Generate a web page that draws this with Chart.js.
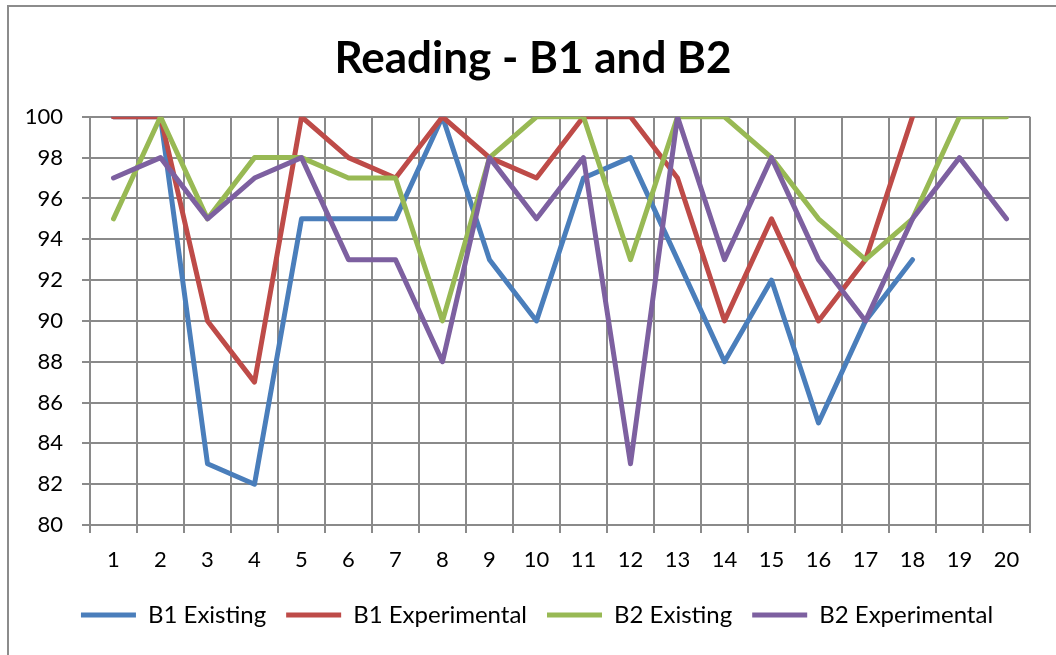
<!DOCTYPE html>
<html>
<head>
<meta charset="utf-8">
<title>Reading - B1 and B2</title>
<script src="https://cdn.jsdelivr.net/npm/chart.js@4/dist/chart.umd.min.js"></script>
<style>
    html, body { margin: 0; padding: 0; background: #fff; }
    #wrap { position: relative; width: 1056px; height: 655px; }
</style>
</head>
<body>
<div id="wrap"><canvas id="readingChart" width="1056" height="655"></canvas></div>
<script>
// student numbers along the bottom
const students = ['1', '2', '3', '4', '5', '6', '7', '8', '9', '10',
    '11', '12', '13', '14', '15', '16', '17', '18', '19', '20'];

// reading scores per group (null = no score)
const b1Existing = [100, 100, 83, 82, 95, 95, 95, 100, 93, 90, 97, 98, 93, 88, 92, 85, 90, 93, null, null];
const b1Experimental = [100, 100, 90, 87, 100, 98, 97, 100, 98, 97, 100, 100, 97, 90, 95, 90, 93, 100, null, null];
const b2Existing = [95, 100, 95, 98, 98, 97, 97, 90, 98, 100, 100, 93, 100, 100, 98, 95, 93, 95, 100, 100];
const b2Experimental = [97, 98, 95, 97, 98, 93, 93, 88, 98, 95, 98, 83, 100, 93, 98, 93, 90, 95, 98, 95];

const yTicks = [80, 82, 84, 86, 88, 90, 92, 94, 96, 98, 100];

const gridColor = '#8a8a8a';
const fontName = 'Lato, "Liberation Sans", sans-serif';

function series(label, data, color, order) {
    return {
        label: label,
        data: data,
        borderColor: color,
        backgroundColor: color,
        borderWidth: 5,
        borderJoinStyle: 'round',
        borderCapStyle: 'round',
        pointRadius: 0,
        pointHoverRadius: 0,
        tension: 0,
        spanGaps: false,
        order: order
    };
}

// white page with the grey frame at top/left, title + legend nudged right a bit
const framePlugin = {
    id: 'frame',
    afterLayout(chart) {
        chart.legend.left += 11;
        chart.legend.right += 11;
        chart.titleBlock.left += 7;
        chart.titleBlock.right += 7;
    },
    beforeDraw(chart) {
        const c = chart.ctx;
        c.save();
        c.fillStyle = '#fff';
        c.fillRect(0, 0, chart.width, chart.height);
        c.strokeStyle = '#8c8c8c';
        c.lineWidth = 2;
        c.beginPath();
        c.moveTo(8, chart.height);
        c.lineTo(8, 6);
        c.lineTo(chart.width, 6);
        c.stroke();
        c.restore();
    }
};

const ctx = document.getElementById('readingChart').getContext('2d');
const readingChart = new Chart(ctx, {
    type: 'line',
    data: {
        labels: students,
        datasets: [
            series('B1 Existing', b1Existing, '#4a7ebb', 4),
            series('B1 Experimental', b1Experimental, '#be4b48', 3),
            series('B2 Existing', b2Existing, '#98b954', 2),
            series('B2 Experimental', b2Experimental, '#7d60a0', 1)
        ]
    },
    options: {
        responsive: false,
        animation: false,
        layout: {
            padding: { left: 22, right: 26, top: 10, bottom: 18 }
        },
        plugins: {
            title: {
                display: true,
                text: 'Reading - B1 and B2',
                color: '#000',
                font: { family: fontName, size: 44, weight: 'bold', lineHeight: 1.2 },
                padding: { top: 22, bottom: 32 }
            },
            legend: {
                position: 'bottom',
                labels: {
                    color: '#000',
                    font: { family: fontName, size: 24 },
                    usePointStyle: true,
                    pointStyle: 'line',
                    pointStyleWidth: 55,
                    padding: 20,
                    sort: (a, b) => a.datasetIndex - b.datasetIndex
                }
            },
            tooltip: { enabled: false }
        },
        scales: {
            x: {
                offset: true,
                grid: {
                    offset: true,
                    color: gridColor,
                    lineWidth: 2,
                    tickLength: 8
                },
                border: { color: gridColor, width: 2 },
                ticks: {
                    color: '#000',
                    font: { family: fontName, size: 22 },
                    padding: 14,
                    maxRotation: 0
                },
                afterFit: (scale) => { scale.height = 58; }
            },
            y: {
                min: yTicks[0],
                max: yTicks[yTicks.length - 1],
                afterBuildTicks: (scale) => {
                    scale.ticks = yTicks.map(v => ({ value: v }));
                },
                grid: {
                    color: gridColor,
                    lineWidth: 2,
                    tickLength: 8
                },
                border: { color: gridColor, width: 2 },
                ticks: {
                    color: '#000',
                    font: { family: fontName, size: 22 },
                    padding: 19
                },
                afterFit: (scale) => { scale.width = 68; }
            }
        }
    },
    plugins: [framePlugin]
});
</script>
</body>
</html>
